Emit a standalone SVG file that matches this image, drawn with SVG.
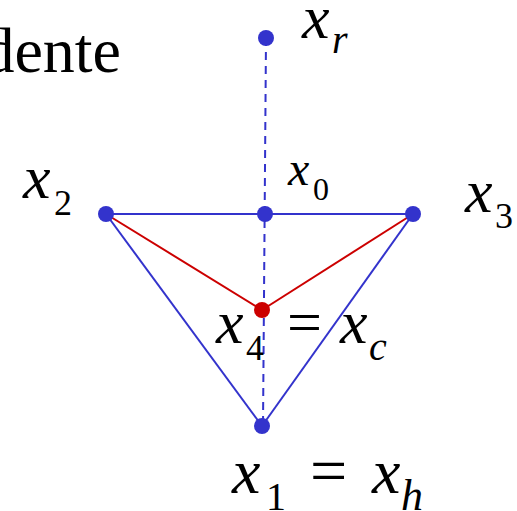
<svg xmlns="http://www.w3.org/2000/svg" width="517" height="511" viewBox="0 0 517 511">
<style>
.lbl{font-family:"Liberation Serif","Times New Roman",serif;fill:#000}
.it{font-style:italic}
.b{stroke:#3333cc;stroke-width:2;fill:none}
.r{stroke:#cc0000;stroke-width:2;fill:none}
.nb{fill:#3333cc}
.nr{fill:#cc0000}
</style>
<rect width="517" height="511" fill="#fff"/>
<text class="lbl" x="121" y="72" font-size="64" text-anchor="end">dente</text>
<g id="connectors">
<line class="b" x1="266" y1="38" x2="263" y2="426" stroke-dasharray="8,6"/>
<line class="b" x1="106" y1="214" x2="413" y2="214"/>
<line class="b" x1="106" y1="214" x2="262" y2="426"/>
<line class="b" x1="413" y1="214" x2="262" y2="426"/>
<line class="r" x1="106" y1="214" x2="262" y2="310"/>
<line class="r" x1="413" y1="214" x2="262" y2="310"/>
</g>
<g id="xr"><circle class="nb" cx="266" cy="38" r="8"/>
<text class="lbl"><tspan class="it" x="302" y="38" font-size="62">x</tspan><tspan class="it" x="332" y="53" font-size="40">r</tspan></text></g>
<g id="x2"><circle class="nb" cx="106" cy="214" r="8"/>
<text class="lbl"><tspan class="it" x="23" y="198" font-size="62">x</tspan><tspan x="54" y="215" font-size="36">2</tspan></text></g>
<g id="x0"><circle class="nb" cx="265" cy="214" r="8"/>
<text class="lbl"><tspan class="it" x="288" y="185" font-size="48">x</tspan><tspan x="313" y="200" font-size="32">0</tspan></text></g>
<g id="x3"><circle class="nb" cx="413" cy="214" r="8"/>
<text class="lbl"><tspan class="it" x="465" y="212" font-size="62">x</tspan><tspan x="495" y="228" font-size="36">3</tspan></text></g>
<g id="x4"><circle class="nr" cx="262" cy="310" r="8"/>
<text class="lbl"><tspan class="it" x="216" y="343" font-size="62">x</tspan><tspan x="246" y="360" font-size="36">4</tspan><tspan x="287" y="343" font-size="62">=</tspan><tspan class="it" x="340" y="343" font-size="62">x</tspan><tspan class="it" x="369" y="360" font-size="40">c</tspan></text></g>
<g id="x1"><circle class="nb" cx="262" cy="426" r="8"/>
<text class="lbl"><tspan class="it" x="232" y="493" font-size="64">x</tspan><tspan x="266" y="510" font-size="40">1</tspan><tspan x="310" y="493" font-size="66">=</tspan><tspan class="it" x="372" y="493" font-size="64">x</tspan><tspan class="it" x="401" y="510" font-size="44">h</tspan></text></g>
</svg>
